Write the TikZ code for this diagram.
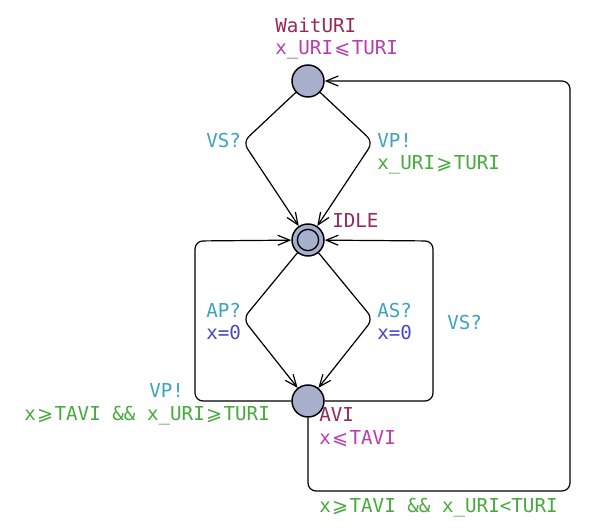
\documentclass[tikz,border=0pt]{standalone}
\usepackage{fontspec}
\setmonofont{DejaVu Sans Mono}
\newfontfamily\symf{DejaVu Sans}
\usetikzlibrary{arrows.meta}
\definecolor{locname}{RGB}{150,40,90}
\definecolor{inv}{RGB}{185,60,175}
\definecolor{sync}{RGB}{60,165,190}
\definecolor{guard}{RGB}{70,170,60}
\definecolor{assign}{RGB}{70,70,200}
\definecolor{locfill}{RGB}{168,175,205}
\newcommand{\myle}{\kern1pt{\symf ⩽}\kern1pt}
\newcommand{\myge}{\kern1pt{\symf ⩾}\kern1pt}
\tikzset{
  loc/.style={circle,draw,line width=1.1pt,fill=locfill,minimum size=24pt,inner sep=0pt},
  edge/.style={draw,line width=0.9pt,rounded corners=6pt,-{Straight Barb[length=9pt,width=7.5pt]}},
  lbl/.style={anchor=base west,inner sep=0pt,font=\ttfamily\fontsize{14.4}{17}\selectfont},
}
\begin{document}
\begin{tikzpicture}[x=0.75pt,y=-0.75pt]
\useasboundingbox (0,0) rectangle (600,530);
% locations
\node[loc] (wait) at (308,81) {};
\node[loc] (idle) at (308,240) {};
\draw[line width=1pt] (idle) circle (8pt);
\node[loc] (avi) at (308,401) {};
% bend points
\coordinate (ul) at (243,142);
\coordinate (ur) at (373,142);
\coordinate (ll) at (243,319);
\coordinate (lr) at (373,319);
\coordinate (lb1) at (195,401);
\coordinate (lb2) at (195,241);
\coordinate (rb1) at (433,401);
\coordinate (rb2) at (433,241);
\coordinate (ob1) at (308,491);
\coordinate (ob2) at (570,491);
\coordinate (ob3) at (570,81);
% edges
\draw[edge] (wait) -- (ul) -- (idle);
\draw[edge] (wait) -- (ur) -- (idle);
\draw[edge] (idle) -- (ll) -- (avi);
\draw[edge] (idle) -- (lr) -- (avi);
\draw[edge] (avi) -- (lb1) -- (lb2) -- (idle);
\draw[edge] (avi) -- (rb1) -- (rb2) -- (idle);
\draw[edge] (avi) -- (ob1) -- (ob2) -- (ob3) -- (wait);
% labels
\node[lbl,text=locname] (nwait) at (275,33) {WaitURI};
\node[lbl,text=inv] (iwait) at (275,55) {x\_URI\myle TURI};
\node[lbl,text=sync] (s1) at (206,148) {VS?};
\node[lbl,text=sync] (s2) at (377,148) {VP!};
\node[lbl,text=guard] (g2) at (377,170) {x\_URI\myge TURI};
\node[lbl,text=locname] (nidle) at (332,228) {IDLE};
\node[lbl,text=sync] (s3) at (206,318) {AP?};
\node[lbl,text=assign] (a3) at (206,340) {x=0};
\node[lbl,text=sync] (s4) at (377,318) {AS?};
\node[lbl,text=assign] (a4) at (377,340) {x=0};
\node[lbl,text=sync] (s5) at (447,330) {VS?};
\node[lbl,text=sync] (s6) at (149,398) {VP!};
\node[lbl,text=guard] (g6) at (24,421) {x\myge TAVI \&\& x\_URI\myge TURI};
\node[lbl,text=locname] (navi) at (319,422) {AVI};
\node[lbl,text=inv] (iavi) at (319,445) {x\myle TAVI};
\node[lbl,text=guard] (g7) at (319,513) {x\myge TAVI \&\& x\_URI<TURI};
\end{tikzpicture}
\end{document}
